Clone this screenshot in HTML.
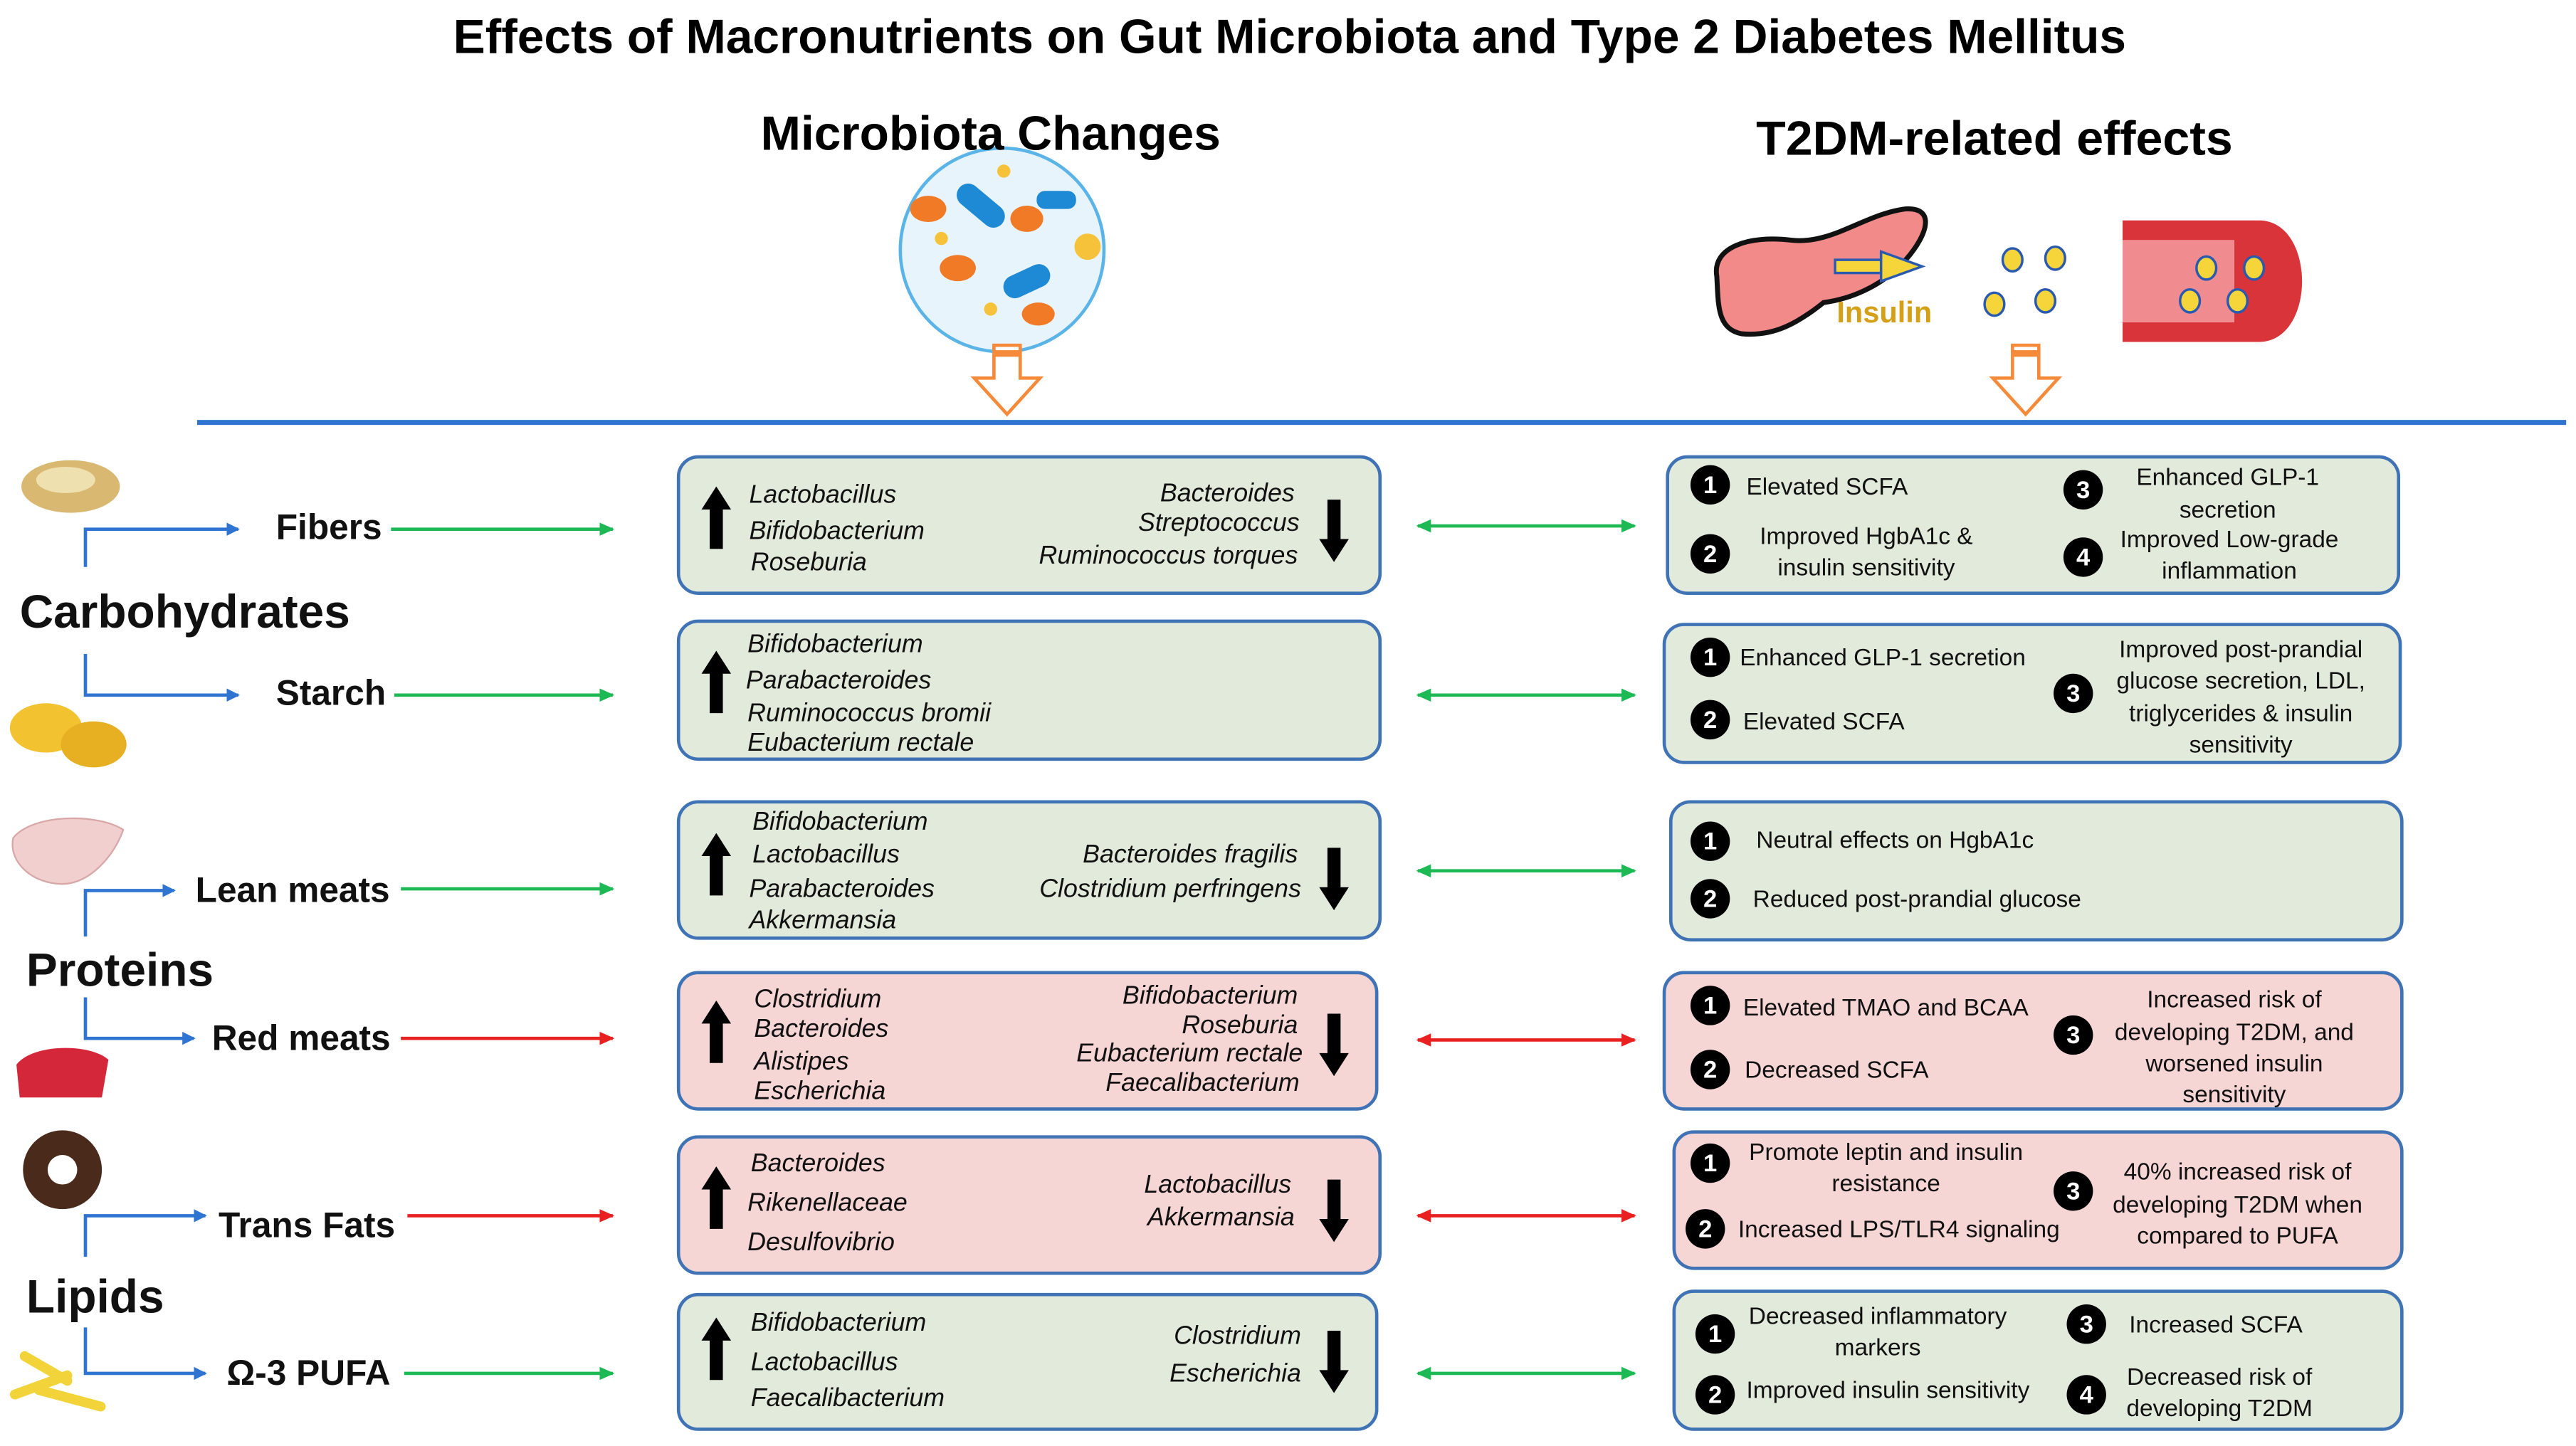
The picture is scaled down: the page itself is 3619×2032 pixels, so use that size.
<!DOCTYPE html>
<html><head><meta charset="utf-8"><style>
html,body{margin:0;padding:0;background:#fff;}
svg{display:block;}
text{font-family:"Liberation Sans",Arial,sans-serif;}
.it{font-style:italic;font-size:15.5px;fill:#111;}
.ef{font-size:14.5px;fill:#111;}
.lb{font-weight:bold;font-size:21.5px;fill:#111;}
.big{font-weight:bold;font-size:28.5px;fill:#111;}
.num{font-weight:bold;font-size:15px;fill:#fff;text-anchor:middle;}
</style></head><body>
<svg width="3619" height="2032" viewBox="0 0 1568 880" xmlns="http://www.w3.org/2000/svg">
<defs>
<marker id="mb" markerWidth="8" markerHeight="8" refX="7" refY="4" orient="auto" markerUnits="userSpaceOnUse"><path d="M0,0 L8,4 L0,8 z" fill="#2f74d0"/></marker>
<marker id="mg" markerWidth="9" markerHeight="8" refX="8" refY="4" orient="auto-start-reverse" markerUnits="userSpaceOnUse"><path d="M0,0 L9,4 L0,8 z" fill="#1db954"/></marker>
<marker id="mr" markerWidth="9" markerHeight="8" refX="8" refY="4" orient="auto-start-reverse" markerUnits="userSpaceOnUse"><path d="M0,0 L9,4 L0,8 z" fill="#e82020"/></marker>
<g id="up"><path d="M0,-22 L9,-8 L4,-8 L4,16 L-4,16 L-4,-8 L-9,-8 z" fill="#000"/></g>
<g id="dn"><path d="M0,22 L9,8 L4,8 L4,-16 L-4,-16 L-4,8 L-9,8 z" fill="#000"/></g>
<g id="oa"><path d="M-8,0 L8,0 L8,20 L20,20 L0,42 L-20,20 L-8,20 z" fill="#fff" stroke="#f58a3a" stroke-width="2"/><rect x="-8" y="3" width="16" height="4" fill="#f58a3a"/></g>
</defs>

<text x="785" y="32" text-anchor="middle" font-weight="bold" font-size="29.3">Effects of Macronutrients on Gut Microbiota and Type 2 Diabetes Mellitus</text>

<!-- microbe circle -->
<circle cx="610" cy="152" r="62" fill="#e8f4fc" stroke="#5bb4e8" stroke-width="2"/>
<ellipse cx="565" cy="127" rx="11" ry="8" fill="#f07a26"/>
<rect x="580" y="118" width="34" height="14" rx="7" fill="#1e8ad6" transform="rotate(40 597 125)"/>
<ellipse cx="625" cy="133" rx="10" ry="8" fill="#f07a26"/>
<rect x="631" y="116" width="24" height="11" rx="5" fill="#1e8ad6"/>
<ellipse cx="611" cy="104" rx="4" ry="4" fill="#f5c23a"/>
<ellipse cx="573" cy="145" rx="4" ry="4" fill="#f5c23a"/>
<ellipse cx="662" cy="150" rx="8" ry="8" fill="#f5c23a"/>
<ellipse cx="583" cy="163" rx="11" ry="8" fill="#f07a26"/>
<rect x="610" y="164" width="30" height="14" rx="7" fill="#1e8ad6" transform="rotate(-25 625 171)"/>
<ellipse cx="603" cy="188" rx="4" ry="4" fill="#f5c23a"/>
<ellipse cx="632" cy="191" rx="10" ry="7" fill="#f07a26"/>
<use href="#oa" x="613" y="210"/>
<use href="#oa" x="1233" y="210"/>

<text x="603" y="91" text-anchor="middle" font-weight="bold" font-size="29.3">Microbiota Changes</text>
<text x="1214" y="94" text-anchor="middle" font-weight="bold" font-size="29.5">T2DM-related effects</text>

<!-- pancreas -->
<path d="M1045,168 C1042,150 1065,143 1090,146 C1115,149 1135,130 1160,127 C1178,126 1174,142 1160,158 C1145,175 1125,182 1110,184 C1095,196 1080,205 1060,203 C1045,200 1046,185 1045,168 z" fill="#f28a8a" stroke="#111" stroke-width="3"/>
<rect x="1117" y="158" width="28" height="8" fill="#f5d53a" stroke="#2a5ab0" stroke-width="1.5"/>
<path d="M1145,153 L1170,162 L1145,171 z" fill="#f5d53a" stroke="#2a5ab0" stroke-width="1.5"/>
<text x="1118" y="196" font-weight="bold" font-size="18" fill="#d4a017">Insulin</text>
<g fill="#f5d53a" stroke="#2a5ab0" stroke-width="1.5">
<ellipse cx="1225" cy="158" rx="6" ry="7"/><ellipse cx="1251" cy="157" rx="6" ry="7"/>
<ellipse cx="1214" cy="185" rx="6" ry="7"/><ellipse cx="1245" cy="183" rx="6" ry="7"/></g>
<!-- vessel -->
<path d="M1292,134 L1375,134 C1410,134 1410,208 1375,208 L1292,208 L1292,196 L1360,196 L1360,146 L1292,146 z" fill="#d8343a"/>
<rect x="1292" y="146" width="68" height="50" fill="#f08c90"/>
<g fill="#f5d53a" stroke="#2a5ab0" stroke-width="1.5">
<ellipse cx="1343" cy="163" rx="6" ry="7"/><ellipse cx="1372" cy="163" rx="6" ry="7"/>
<ellipse cx="1333" cy="183" rx="6" ry="7"/><ellipse cx="1362" cy="183" rx="6" ry="7"/></g>

<line x1="120" y1="257" x2="1562" y2="257" stroke="#2f74d0" stroke-width="3"/>

<!-- food pics -->
<ellipse cx="43" cy="296" rx="30" ry="16" fill="#d9b872"/><ellipse cx="40" cy="292" rx="18" ry="8" fill="#efe0b0"/>
<ellipse cx="28" cy="443" rx="22" ry="15" fill="#f2c230"/><ellipse cx="57" cy="453" rx="20" ry="14" fill="#e6b022"/>
<path d="M8,510 C20,495 60,495 75,505 C70,520 55,538 38,538 C20,538 5,525 8,510 z" fill="#f2cfcf" stroke="#d8a8a8"/>
<path d="M10,648 C20,635 55,635 66,645 L62,668 L12,668 z" fill="#d4283a"/>
<circle cx="38" cy="712" r="24" fill="#4a2a1a"/><circle cx="38" cy="712" r="9" fill="#fff"/>
<g fill="#f2d43a"><rect x="5" y="840" width="40" height="6" rx="3" transform="rotate(-20 25 843)"/><rect x="20" y="848" width="45" height="6" rx="3" transform="rotate(15 42 851)"/><rect x="10" y="830" width="36" height="6" rx="3" transform="rotate(30 28 833)"/></g>

<!-- left labels -->
<text x="168" y="328" class="lb">Fibers</text>
<text x="12" y="382" class="big">Carbohydrates</text>
<text x="168" y="429" class="lb">Starch</text>
<text x="119" y="549" class="lb">Lean meats</text>
<text x="16" y="600" class="big">Proteins</text>
<text x="129" y="639" class="lb">Red meats</text>
<text x="133" y="753" class="lb">Trans Fats</text>
<text x="16" y="799" class="big">Lipids</text>
<text x="138" y="843" class="lb">Ω-3 PUFA</text>

<g stroke="#2f74d0" stroke-width="2" fill="none">
<polyline points="52,345 52,322 145,322" marker-end="url(#mb)"/>
<polyline points="52,398 52,423 145,423" marker-end="url(#mb)"/>
<polyline points="52,570 52,542 106,542" marker-end="url(#mb)"/>
<polyline points="52,607 52,632 118,632" marker-end="url(#mb)"/>
<polyline points="52,765 52,740 125,740" marker-end="url(#mb)"/>
<polyline points="52,808 52,836 125,836" marker-end="url(#mb)"/>
</g>

<g stroke-width="2">
<line x1="238" y1="322" x2="373" y2="322" stroke="#1db954" marker-end="url(#mg)"/>
<line x1="240" y1="423" x2="373" y2="423" stroke="#1db954" marker-end="url(#mg)"/>
<line x1="244" y1="541" x2="373" y2="541" stroke="#1db954" marker-end="url(#mg)"/>
<line x1="244" y1="632" x2="373" y2="632" stroke="#e82020" marker-end="url(#mr)"/>
<line x1="248" y1="740" x2="373" y2="740" stroke="#e82020" marker-end="url(#mr)"/>
<line x1="246" y1="836" x2="373" y2="836" stroke="#1db954" marker-end="url(#mg)"/>
<line x1="863" y1="320" x2="995" y2="320" stroke="#1db954" marker-start="url(#mg)" marker-end="url(#mg)"/>
<line x1="863" y1="423" x2="995" y2="423" stroke="#1db954" marker-start="url(#mg)" marker-end="url(#mg)"/>
<line x1="863" y1="530" x2="995" y2="530" stroke="#1db954" marker-start="url(#mg)" marker-end="url(#mg)"/>
<line x1="863" y1="633" x2="995" y2="633" stroke="#e82020" marker-start="url(#mr)" marker-end="url(#mr)"/>
<line x1="863" y1="740" x2="995" y2="740" stroke="#e82020" marker-start="url(#mr)" marker-end="url(#mr)"/>
<line x1="863" y1="836" x2="995" y2="836" stroke="#1db954" marker-start="url(#mg)" marker-end="url(#mg)"/>
</g>

<!-- boxes -->
<g stroke="#3f73b5" stroke-width="2">
<rect x="413" y="278" width="427" height="83" rx="12" fill="#e2eadc"/>
<rect x="413" y="378" width="427" height="84" rx="12" fill="#e2eadc"/>
<rect x="413" y="488" width="427" height="83" rx="12" fill="#e2eadc"/>
<rect x="413" y="592" width="425" height="83" rx="12" fill="#f6d5d5"/>
<rect x="413" y="692" width="427" height="83" rx="12" fill="#f6d5d5"/>
<rect x="413" y="788" width="425" height="82" rx="12" fill="#e2eadc"/>
<rect x="1015" y="278" width="445" height="83" rx="12" fill="#e2eadc"/>
<rect x="1013" y="380" width="448" height="84" rx="12" fill="#e2eadc"/>
<rect x="1017" y="488" width="445" height="84" rx="12" fill="#e2eadc"/>
<rect x="1013" y="592" width="449" height="83" rx="12" fill="#f6d5d5"/>
<rect x="1019" y="689" width="443" height="83" rx="12" fill="#f6d5d5"/>
<rect x="1019" y="786" width="443" height="84" rx="12" fill="#e2eadc"/>
</g>

<!-- microbiota text -->
<use href="#up" x="436" y="318"/><use href="#dn" x="812" y="320"/>
<text class="it" x="456" y="306">Lactobacillus</text><text class="it" x="456" y="328">Bifidobacterium</text><text class="it" x="457" y="347">Roseburia</text>
<text class="it" x="788" y="305" text-anchor="end">Bacteroides</text><text class="it" x="791" y="323" text-anchor="end">Streptococcus</text><text class="it" x="790" y="343" text-anchor="end">Ruminococcus torques</text>

<use href="#up" x="436" y="418"/>
<text class="it" x="455" y="397">Bifidobacterium</text><text class="it" x="454" y="419">Parabacteroides</text><text class="it" x="455" y="439">Ruminococcus bromii</text><text class="it" x="455" y="457">Eubacterium rectale</text>

<use href="#up" x="436" y="529"/><use href="#dn" x="812" y="532"/>
<text class="it" x="458" y="505">Bifidobacterium</text><text class="it" x="458" y="525">Lactobacillus</text><text class="it" x="456" y="546">Parabacteroides</text><text class="it" x="456" y="565">Akkermansia</text>
<text class="it" x="790" y="525" text-anchor="end">Bacteroides fragilis</text><text class="it" x="792" y="546" text-anchor="end">Clostridium perfringens</text>

<use href="#up" x="436" y="631"/><use href="#dn" x="812" y="633"/>
<text class="it" x="459" y="613">Clostridium</text><text class="it" x="459" y="631">Bacteroides</text><text class="it" x="459" y="651">Alistipes</text><text class="it" x="459" y="669">Escherichia</text>
<text class="it" x="790" y="611" text-anchor="end">Bifidobacterium</text><text class="it" x="790" y="629" text-anchor="end">Roseburia</text><text class="it" x="793" y="646" text-anchor="end">Eubacterium rectale</text><text class="it" x="791" y="664" text-anchor="end">Faecalibacterium</text>

<use href="#up" x="436" y="732"/><use href="#dn" x="812" y="734"/>
<text class="it" x="457" y="713">Bacteroides</text><text class="it" x="455" y="737">Rikenellaceae</text><text class="it" x="455" y="761">Desulfovibrio</text>
<text class="it" x="786" y="726" text-anchor="end">Lactobacillus</text><text class="it" x="788" y="746" text-anchor="end">Akkermansia</text>

<use href="#up" x="436" y="824"/><use href="#dn" x="812" y="826"/>
<text class="it" x="457" y="810">Bifidobacterium</text><text class="it" x="457" y="834">Lactobacillus</text><text class="it" x="457" y="856">Faecalibacterium</text>
<text class="it" x="792" y="818" text-anchor="end">Clostridium</text><text class="it" x="792" y="841" text-anchor="end">Escherichia</text>

<!-- T2DM effects -->
<g fill="#000">
<circle cx="1041" cy="295" r="12"/><circle cx="1041" cy="337" r="12"/><circle cx="1268" cy="298" r="12"/><circle cx="1268" cy="339" r="12"/>
<circle cx="1041" cy="400" r="12"/><circle cx="1041" cy="438" r="12"/><circle cx="1262" cy="422" r="12"/>
<circle cx="1041" cy="512" r="12"/><circle cx="1041" cy="547" r="12"/>
<circle cx="1041" cy="612" r="12"/><circle cx="1041" cy="651" r="12"/><circle cx="1262" cy="630" r="12"/>
<circle cx="1041" cy="708" r="12"/><circle cx="1038" cy="748" r="12"/><circle cx="1262" cy="725" r="12"/>
<circle cx="1044" cy="812" r="12"/><circle cx="1044" cy="849" r="12"/><circle cx="1270" cy="806" r="12"/><circle cx="1270" cy="849" r="12"/>
</g>
<g>
<text class="num" x="1041" y="300">1</text><text class="num" x="1041" y="342">2</text><text class="num" x="1268" y="303">3</text><text class="num" x="1268" y="344">4</text>
<text class="num" x="1041" y="405">1</text><text class="num" x="1041" y="443">2</text><text class="num" x="1262" y="427">3</text>
<text class="num" x="1041" y="517">1</text><text class="num" x="1041" y="552">2</text>
<text class="num" x="1041" y="617">1</text><text class="num" x="1041" y="656">2</text><text class="num" x="1262" y="635">3</text>
<text class="num" x="1041" y="713">1</text><text class="num" x="1038" y="753">2</text><text class="num" x="1262" y="730">3</text>
<text class="num" x="1044" y="817">1</text><text class="num" x="1044" y="854">2</text><text class="num" x="1270" y="811">3</text><text class="num" x="1270" y="854">4</text>
</g>

<text class="ef" x="1063" y="301" font-size="16.5">Elevated SCFA</text>
<text class="ef" x="1136" y="331" text-anchor="middle" font-size="13.8">Improved HgbA1c &amp;</text>
<text class="ef" x="1136" y="350" text-anchor="middle" font-size="13.8">insulin sensitivity</text>
<text class="ef" x="1356" y="295" text-anchor="middle" font-size="16">Enhanced GLP-1</text>
<text class="ef" x="1356" y="315" text-anchor="middle" font-size="16">secretion</text>
<text class="ef" x="1357" y="333" text-anchor="middle" font-size="14">Improved Low-grade</text>
<text class="ef" x="1357" y="352" text-anchor="middle" font-size="14">inflammation</text>

<text class="ef" x="1059" y="405" font-size="16.3">Enhanced GLP-1 secretion</text>
<text class="ef" x="1061" y="444" font-size="16.3">Elevated SCFA</text>
<text class="ef" x="1364" y="400" text-anchor="middle" font-size="14">Improved post-prandial</text>
<text class="ef" x="1364" y="419" text-anchor="middle" font-size="14">glucose secretion, LDL,</text>
<text class="ef" x="1364" y="439" text-anchor="middle" font-size="14">triglycerides &amp; insulin</text>
<text class="ef" x="1364" y="458" text-anchor="middle" font-size="14">sensitivity</text>

<text class="ef" x="1069" y="516" font-size="15">Neutral effects on HgbA1c</text>
<text class="ef" x="1067" y="552" font-size="15">Reduced post-prandial glucose</text>

<text class="ef" x="1061" y="618" font-size="16.5">Elevated TMAO and BCAA</text>
<text class="ef" x="1062" y="656" font-size="16.5">Decreased SCFA</text>
<text class="ef" x="1360" y="613" text-anchor="middle" font-size="15.8">Increased risk of</text>
<text class="ef" x="1360" y="633" text-anchor="middle" font-size="15.8">developing T2DM, and</text>
<text class="ef" x="1360" y="652" text-anchor="middle" font-size="15.8">worsened insulin</text>
<text class="ef" x="1360" y="671" text-anchor="middle" font-size="15.8">sensitivity</text>

<text class="ef" x="1148" y="706" text-anchor="middle" font-size="14">Promote leptin and insulin</text>
<text class="ef" x="1148" y="725" text-anchor="middle" font-size="14">resistance</text>
<text class="ef" x="1058" y="753" font-size="13.3">Increased LPS/TLR4 signaling</text>
<text class="ef" x="1362" y="718" text-anchor="middle" font-size="15.5">40% increased risk of</text>
<text class="ef" x="1362" y="738" text-anchor="middle" font-size="15.5">developing T2DM when</text>
<text class="ef" x="1362" y="757" text-anchor="middle" font-size="15.5">compared to PUFA</text>

<text class="ef" x="1143" y="806" text-anchor="middle" font-size="14">Decreased inflammatory</text>
<text class="ef" x="1143" y="825" text-anchor="middle" font-size="14">markers</text>
<text class="ef" x="1063" y="851" font-size="12.8">Improved insulin sensitivity</text>
<text class="ef" x="1296" y="811" font-size="14">Increased SCFA</text>
<text class="ef" x="1351" y="843" text-anchor="middle" font-size="14">Decreased risk of</text>
<text class="ef" x="1351" y="862" text-anchor="middle" font-size="14">developing T2DM</text>
</svg>
</body></html>
